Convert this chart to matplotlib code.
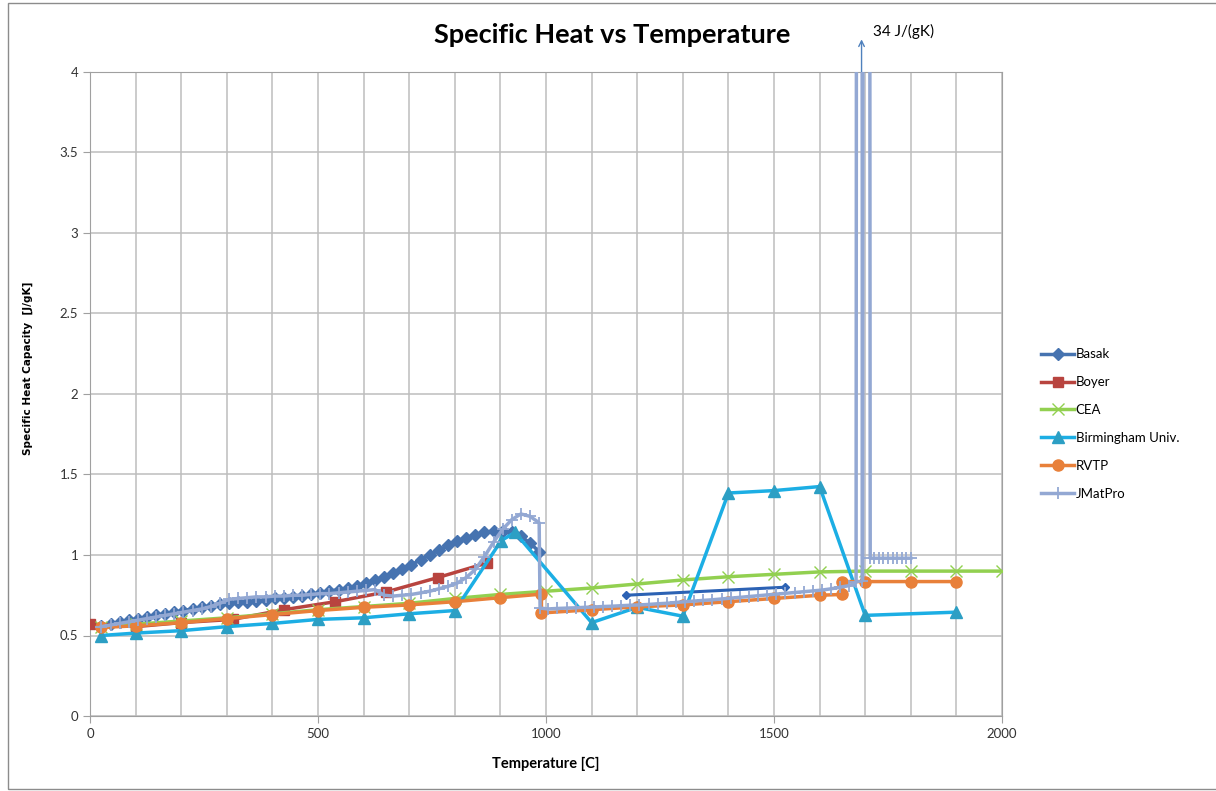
import matplotlib
matplotlib.use("Agg")
import matplotlib.pyplot as plt
from matplotlib.patches import Rectangle
from matplotlib.ticker import MultipleLocator, FormatStrFormatter

# --- data ---
basak_t = [25, 45, 65, 85, 105, 125, 145, 165, 185, 205, 225, 245, 265, 285, 305, 325,
           345, 365, 385, 405, 425, 445, 465, 485, 505, 525, 545, 565, 585, 605, 625, 645,
           665, 685, 705, 725, 745, 765, 785, 805, 825, 845, 865, 885, 905, 925, 945, 965, 985]
basak_cp = [0.56, 0.57, 0.585, 0.595, 0.605, 0.615, 0.625, 0.635, 0.645, 0.655, 0.665, 0.675,
            0.685, 0.695, 0.70, 0.705, 0.71, 0.715, 0.72, 0.73, 0.735, 0.74, 0.745, 0.755,
            0.765, 0.775, 0.785, 0.795, 0.81, 0.825, 0.845, 0.865, 0.89, 0.915, 0.94, 0.97,
            1.00, 1.03, 1.06, 1.085, 1.105, 1.125, 1.14, 1.15, 1.15, 1.14, 1.115, 1.075, 1.02]
basak2_t = [1175, 1525]
basak2_cp = [0.75, 0.80]

boyer_t = [0, 100, 200, 313, 425, 538, 649, 763, 870]
boyer_cp = [0.57, 0.555, 0.58, 0.60, 0.66, 0.71, 0.77, 0.86, 0.95]

cea_t = [25, 100, 200, 300, 400, 500, 600, 700, 800, 900, 1000, 1100, 1200, 1300, 1400,
         1500, 1600, 1700, 1800, 1900, 2000]
cea_cp = [0.55, 0.57, 0.59, 0.61, 0.635, 0.66, 0.68, 0.70, 0.73, 0.755, 0.775, 0.795, 0.82,
          0.845, 0.865, 0.88, 0.895, 0.90, 0.90, 0.90, 0.90]

birm_t = [25, 100, 200, 300, 400, 500, 600, 700, 800, 902, 932, 1100, 1200, 1300, 1400,
          1500, 1600, 1700, 1900]
birm_cp = [0.50, 0.515, 0.53, 0.555, 0.575, 0.60, 0.61, 0.635, 0.655, 1.09, 1.14, 0.58,
           0.675, 0.62, 1.385, 1.40, 1.425, 0.625, 0.645]

rvtp_t = [25, 100, 200, 300, 400, 500, 600, 700, 800, 900, 990, 990, 1100, 1200, 1300,
          1400, 1500, 1600, 1650, 1650, 1700, 1800, 1900]
rvtp_cp = [0.55, 0.56, 0.58, 0.605, 0.63, 0.655, 0.675, 0.69, 0.71, 0.735, 0.757, 0.64,
           0.66, 0.678, 0.69, 0.71, 0.73, 0.75, 0.755, 0.835, 0.835, 0.835, 0.835]

jmat_t = [25, 45, 65, 85, 105, 125, 145, 165, 185, 205, 225, 245, 265, 285, 305, 325, 345,
          365, 385, 405, 425, 445, 465, 485, 505, 525, 545, 565, 585, 605, 625, 645, 665,
          685, 705, 725, 745, 765, 785, 805, 825, 845, 865, 885, 905, 925, 945, 965, 985,
          987, 1005, 1025, 1045, 1065, 1085, 1105, 1125, 1145, 1165, 1185, 1205, 1225, 1245,
          1265, 1285, 1305, 1325, 1345, 1365, 1385, 1405, 1425, 1445, 1465, 1485, 1505,
          1525, 1545, 1565, 1585, 1605, 1625, 1645, 1665, 1680, 1687, 1694, 1703, 1711,
          1720, 1730, 1740, 1750, 1760, 1770, 1780, 1790, 1800]
jmat_cp = [0.555, 0.565, 0.575, 0.585, 0.595, 0.605, 0.615, 0.625, 0.635, 0.645, 0.655,
           0.665, 0.68, 0.70, 0.725, 0.73, 0.735, 0.74, 0.74, 0.745, 0.745, 0.75, 0.75,
           0.755, 0.76, 0.76, 0.765, 0.77, 0.775, 0.78, 0.785, 0.75, 0.745, 0.75, 0.755,
           0.765, 0.775, 0.79, 0.805, 0.825, 0.86, 0.91, 0.99, 1.08, 1.16, 1.22, 1.255,
           1.24, 1.20, 0.67, 0.665, 0.668, 0.67, 0.672, 0.675, 0.677, 0.68, 0.682, 0.685,
           0.688, 0.69, 0.693, 0.697, 0.70, 0.705, 0.71, 0.714, 0.718, 0.722, 0.727, 0.732,
           0.737, 0.742, 0.747, 0.752, 0.757, 0.762, 0.767, 0.772, 0.777, 0.782, 0.79, 0.80,
           0.81, 0.83, 34, 0.84, 34, 0.98, 0.98, 0.98, 0.98, 0.98, 0.98, 0.98, 0.98, 0.98, 0.98]

font = "Lato"

fig = plt.figure(figsize=(12.16, 7.91), dpi=100)
ax = fig.add_axes([90 / 1216, 1 - 716 / 791, 912 / 1216, 644 / 791])

lw = 2.5
ax.plot(basak_t, basak_cp, color="#4673B0", lw=lw, marker="D", ms=6, label="Basak", zorder=3)
ax.plot(basak2_t, basak2_cp, color="#2C62B4", lw=2.2, marker="D", ms=4, zorder=3)
ax.plot(boyer_t, boyer_cp, color="#B8443F", lw=lw, marker="s", ms=7, label="Boyer", zorder=3)
ax.plot(cea_t, cea_cp, color="#92D050", lw=lw, marker="x", ms=8, mew=1, label="CEA", zorder=3)
ax.plot(birm_t, birm_cp, color="#1CAEE4", lw=lw, marker="^", ms=8, mfc="#2C9FC4",
        mec="#2C9FC4", label="Birmingham Univ.", zorder=4)
ax.plot(rvtp_t, rvtp_cp, color="#E8803A", lw=lw, marker="o", ms=8, label="RVTP", zorder=4)
ax.plot(jmat_t, jmat_cp, color="#93A8D3", lw=lw, marker="+", ms=8, mew=1.3, label="JMatPro",
        zorder=5)

ax.set_xlim(0, 2000)
ax.set_ylim(0, 4)
ax.xaxis.set_major_locator(MultipleLocator(500))
ax.xaxis.set_minor_locator(MultipleLocator(100))
ax.yaxis.set_major_locator(MultipleLocator(0.5))
ax.yaxis.set_major_formatter(FormatStrFormatter("%g"))
ax.grid(True, which="both", color="#BDBDBD", lw=1.1)
ax.set_axisbelow(True)
for s in ax.spines.values():
    s.set_color("#A0A0A0")
ax.tick_params(which="major", length=5, color="#A0A0A0", labelsize=9.5, labelcolor="#333333")
ax.tick_params(which="minor", length=0)
for lab in ax.get_xticklabels() + ax.get_yticklabels():
    lab.set_family(font)

ax.set_xlabel("Temperature [C]", family=font, fontweight="bold", fontsize=10.5, labelpad=12)
ax.set_ylabel("Specific Heat Capacity  [J/gK]", family="DejaVu Sans", fontweight="bold",
              fontsize=7.6)
ax.yaxis.set_label_coords(-57 / 912, 0.54)

fig.text(612 / 1216, 1 - 35 / 791, "Specific Heat vs Temperature", family=font,
         fontweight="bold", fontsize=19.5, ha="center", va="center")

# arrow for the off-scale JMatPro spike
ax.annotate("", xy=(1692, 4.22), xytext=(1692, 3.98), xycoords="data",
            annotation_clip=False,
            arrowprops=dict(arrowstyle="->", color="#4F81BD", lw=1))
ax.text(1718, 4.25, "34 J/(gK)", family=font, fontsize=11, va="center", ha="left",
        clip_on=False)

fig.legend(loc="center left", bbox_to_anchor=(1036 / 1216, 1 - 424 / 791), frameon=False,
           prop={"family": font, "size": 9.5}, labelspacing=1.2, handlelength=2.5,
           handletextpad=0.1, borderaxespad=0)

fig.patches.append(Rectangle((8 / 1216, 2 / 791), 1.2, 786 / 791, transform=fig.transFigure,
                             fill=False, ec="#8C8C8C", lw=1))

fig.savefig("out.png", dpi=100)
